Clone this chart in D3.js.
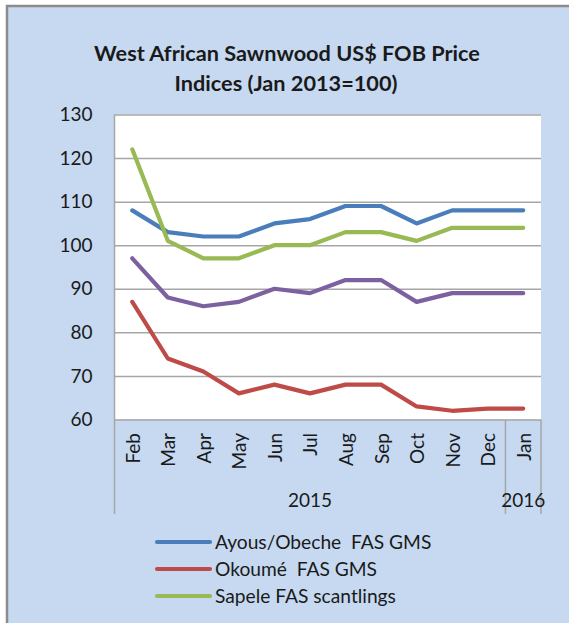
<!DOCTYPE html>
<html>
<head>
<meta charset="utf-8">
<script src="https://cdn.jsdelivr.net/npm/d3@7"></script>
<style>
  html, body { margin: 0; padding: 0; background: #fff; }
  svg { display: block; font-family: Lato, "Open Sans", sans-serif; }
</style>
</head>
<body>
<svg id="chart" width="569" height="623"></svg>
<script>
// months on the axis, grouped by year underneath
const months = ["Feb", "Mar", "Apr", "May", "Jun", "Jul", "Aug", "Sep", "Oct", "Nov", "Dec", "Jan"];
const years = [
  { label: "2015", from: "Feb", to: "Dec" },
  { label: "2016", from: "Jan", to: "Jan" }
];
const yTicks = [60, 70, 80, 90, 100, 110, 120, 130];

// index values
const ayous = [108, 103, 102, 102, 105, 106, 109, 109, 105, 108, 108, 108];
const okoume = [87, 74, 71, 66, 68, 66, 68, 68, 63, 62, 62.5, 62.5];
const sapele = [122, 101, 97, 97, 100, 100, 103, 103, 101, 104, 104, 104];
const fourth = [97, 88, 86, 87, 90, 89, 92, 92, 87, 89, 89, 89]; // purple line, not in legend

const series = [
  { name: "Ayous/Obeche  FAS GMS", values: ayous, color: "#4a7ebb", legend: true },
  { name: "Okoumé  FAS GMS", values: okoume, color: "#be4b48", legend: true },
  { name: "Sapele FAS scantlings", values: sapele, color: "#98b954", legend: true },
  { name: "Other", values: fourth, color: "#7d60a0", legend: false }
];

const svg = d3.select("#chart");

// light blue panel, cut off on the right and bottom
svg.append("rect")
  .attr("x", 7).attr("y", 6)
  .attr("width", 620).attr("height", 660)
  .attr("fill", "#c6d9f1")
  .attr("stroke", "#8c8c8c")
  .attr("stroke-width", 2.5);

// title
const title = svg.append("text")
  .attr("text-anchor", "middle")
  .attr("font-weight", "bold")
  .attr("font-size", 21.7)
  .attr("fill", "#1a1a1a");
title.append("tspan").attr("x", 287).attr("y", 61).text("West African Sawnwood US$ FOB Price");
title.append("tspan").attr("x", 286).attr("y", 91).text("Indices (Jan 2013=100)");

const plot = { left: 114.5, right: 541, top: 114.5, bottom: 419.5 };

const x = d3.scaleBand()
  .domain(months)
  .range([plot.left, plot.right]);

const y = d3.scaleLinear()
  .domain([60, 130])
  .range([plot.bottom, plot.top]);

// plot background
svg.append("rect")
  .attr("x", plot.left).attr("y", plot.top)
  .attr("width", plot.right - plot.left)
  .attr("height", plot.bottom - plot.top)
  .attr("fill", "#fff");

// y axis with gridlines
const yAxis = svg.append("g")
  .attr("transform", `translate(${plot.left},0)`)
  .call(d3.axisLeft(y).tickValues(yTicks).tickSize(-(plot.right - plot.left)).tickPadding(22));
yAxis.select(".domain").remove();
yAxis.selectAll(".tick line").attr("stroke", "#a6a6a6").attr("stroke-width", 1.5);
yAxis.selectAll(".tick text")
  .attr("font-family", "Lato, sans-serif")
  .attr("font-size", 19)
  .attr("fill", "#1a1a1a");

// left axis line, running down through the category area
svg.append("line")
  .attr("x1", plot.left).attr("x2", plot.left)
  .attr("y1", plot.top).attr("y2", 514)
  .attr("stroke", "#a6a6a6").attr("stroke-width", 1.5);

// month labels, rotated
svg.append("g")
  .selectAll("text")
  .data(months)
  .join("text")
  .attr("transform", d => `translate(${x(d) + x.bandwidth() / 2},433) rotate(-90)`)
  .attr("text-anchor", "end")
  .attr("dominant-baseline", "central")
  .attr("font-size", 19)
  .attr("fill", "#1a1a1a")
  .text(d => d);

// year groups with separators
years.forEach(yr => {
  const x0 = x(yr.from);
  const x1 = x(yr.to) + x.bandwidth();
  svg.append("line")
    .attr("x1", x1).attr("x2", x1)
    .attr("y1", plot.bottom).attr("y2", 514)
    .attr("stroke", "#a6a6a6").attr("stroke-width", 1.5);
  svg.append("text")
    .attr("x", (x0 + x1) / 2)
    .attr("y", 507)
    .attr("text-anchor", "middle")
    .attr("font-size", 19)
    .attr("fill", "#1a1a1a")
    .text(yr.label);
});

// lines
const line = d3.line()
  .x((d, i) => x(months[i]) + x.bandwidth() / 2)
  .y(d => y(d));

svg.append("g")
  .selectAll("path")
  .data([series[0], series[2], series[3], series[1]])
  .join("path")
  .attr("d", d => line(d.values))
  .attr("fill", "none")
  .attr("stroke", d => d.color)
  .attr("stroke-width", 4.2)
  .attr("stroke-linejoin", "round")
  .attr("stroke-linecap", "round");

// legend
const legendItems = series.filter(s => s.legend);
const legend = svg.append("g")
  .selectAll("g")
  .data(legendItems)
  .join("g")
  .attr("transform", (d, i) => `translate(157,${542 + i * 27})`);

legend.append("line")
  .attr("x1", 0).attr("x2", 53)
  .attr("stroke", d => d.color)
  .attr("stroke-width", 4.2)
  .attr("stroke-linecap", "round");

legend.append("text")
  .attr("x", 58)
  .attr("y", 7)
  .attr("font-size", 19.2)
  .attr("fill", "#1a1a1a")
  .attr("xml:space", "preserve")
  .style("white-space", "pre")
  .text(d => d.name);
</script>
</body>
</html>
